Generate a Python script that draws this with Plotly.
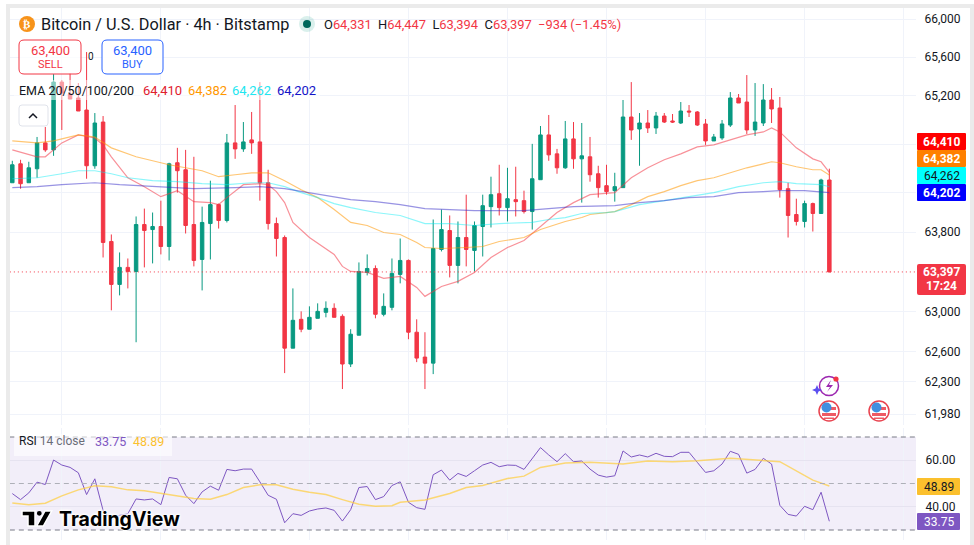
#!/usr/bin/env python3
"""Bitcoin / U.S. Dollar 4h candles with EMA ribbon and RSI pane."""

import numpy as np
import plotly.graph_objects as go

W, H = 974, 545

# candles
opens = [64303, 64497, 64303, 64446, 64712, 64640, 65341, 65217, 65176, 65051,
         64477, 64927, 63705, 63271, 63443, 63402, 63877, 63826, 63857, 63654,
         64508, 64436, 63877, 63523, 63887, 64080, 63918, 64712, 64650, 64743,
         64722, 64303, 63887, 63745, 62633, 62921, 62822, 62931, 62991, 63031,
         62951, 62475, 62762, 63392, 63432, 62971, 63041, 63372, 63513, 62792,
         62544, 62484, 63624, 63816, 63463, 63745, 63614, 63857, 64059, 64191,
         64049, 64130, 64120, 64009, 64334, 64794, 64599, 64456, 64753, 64548,
         64569, 64395, 64273, 64222, 64253, 64979, 64855, 64917, 64866, 64989,
         64938, 64917, 65041, 65031, 64907, 64732, 64763, 64896, 65176, 65134,
         64845, 64917, 65155, 65072, 64242, 63979, 63908, 64090, 63989, 64331]
highs = [64528, 64538, 64518, 64773, 64876, 65424, 65362, 65435, 65331, 65654,
         65020, 64989, 63776, 63594, 63533, 63959, 64039, 63999, 64120, 64508,
         64661, 64640, 64569, 64059, 64324, 64090, 64804, 65103, 64927, 65031,
         65341, 64436, 63948, 63766, 63231, 63001, 63051, 63081, 63101, 63081,
         62971, 62822, 63493, 63574, 63463, 63181, 63533, 63735, 63523, 62921,
         62792, 63928, 64029, 63969, 63908, 64181, 63908, 64181, 64365, 64487,
         64456, 64467, 64222, 64702, 64886, 65000, 64650, 64938, 64927, 64917,
         64773, 64477, 64487, 64405, 65155, 65341, 65020, 65051, 65031, 65020,
         65010, 65134, 65103, 65041, 64958, 64804, 64948, 65237, 65217, 65414,
         65331, 65320, 65279, 65186, 64303, 64140, 64120, 64100, 64344, 64447]
lows = [64303, 64242, 64303, 64354, 64620, 64579, 64845, 65165, 65041, 64344,
        64446, 63543, 63011, 63161, 63231, 62692, 63443, 63483, 63574, 63513,
        64202, 63786, 63453, 63211, 63523, 63836, 63898, 64548, 64620, 64599,
        64120, 63826, 63553, 62385, 62633, 62792, 62822, 62931, 62941, 62941,
        62227, 62445, 62762, 63362, 62931, 62951, 63011, 63282, 62722, 62494,
        62227, 62375, 63604, 63342, 63282, 63453, 63402, 63553, 63847, 63969,
        63908, 63959, 63989, 63826, 64334, 64528, 64395, 64446, 64446, 64100,
        64314, 64151, 64181, 64110, 64253, 64743, 64477, 64814, 64804, 64917,
        64917, 64907, 64979, 64886, 64691, 64732, 64743, 64876, 65124, 64804,
        64784, 64886, 64917, 64151, 63745, 63867, 63847, 63806, 63989, 63394]
closes = [64487, 64293, 64456, 64712, 64640, 65341, 65227, 65165, 65041, 64477,
          64917, 63695, 63271, 63443, 63402, 63877, 63816, 63857, 63654, 64497,
          64426, 63867, 63513, 63898, 64080, 63918, 64712, 64650, 64722, 64712,
          64303, 63887, 63735, 62633, 62911, 62822, 62941, 63001, 63031, 62941,
          62475, 62772, 63402, 63432, 62971, 63051, 63382, 63513, 62792, 62534,
          62484, 63634, 63826, 63463, 63745, 63624, 63867, 64069, 64181, 64049,
          64140, 64110, 64009, 64344, 64794, 64589, 64456, 64753, 64548, 64579,
          64385, 64253, 64212, 64263, 64979, 64845, 64917, 64866, 64989, 64927,
          64927, 65041, 65031, 64896, 64732, 64773, 64907, 65176, 65124, 64845,
          64927, 65155, 65062, 64232, 63969, 63908, 64090, 63989, 64331, 63397]

# EMA lines, read at their bends
ema20_i = [0, 3, 4, 6, 8, 10, 11, 12, 14, 16, 18, 20, 22, 24, 25, 26, 28, 30, 31, 32,
           33, 34, 36, 39, 40, 41, 43, 45, 47, 49, 50, 52, 54, 56, 58, 60, 62, 64, 66,
           68, 70, 73, 75, 77, 79, 81, 83, 85, 87, 89, 91, 92, 93, 95, 97, 98, 99]
ema20 = [64640, 64569, 64569, 64712, 64794, 64763, 64691, 64569, 64354, 64263, 64161,
         64222, 64110, 64100, 64080, 64151, 64283, 64293, 64283, 64212, 64100, 63898,
         63745, 63574, 63453, 63402, 63392, 63332, 63352, 63241, 63151, 63251, 63302,
         63392, 63543, 63644, 63715, 63857, 63999, 64100, 64181, 64202, 64354, 64456,
         64538, 64599, 64671, 64691, 64743, 64794, 64825, 64866, 64825, 64661, 64548,
         64518, 64410]
ema50_i = [0, 3, 5, 8, 10, 12, 15, 19, 23, 25, 27, 29, 31, 33, 35, 37, 39, 41, 43, 45, 47,
           49, 50, 52, 55, 57, 59, 62, 64, 67, 69, 70, 73, 75, 77, 79, 81, 83, 85, 87,
           89, 91, 92, 93, 95, 97, 98, 99]
ema50 = [64732, 64712, 64732, 64794, 64773, 64661, 64569, 64487, 64426, 64365, 64385,
         64405, 64405, 64324, 64232, 64151, 64029, 63898, 63867, 63796, 63776, 63695,
         63644, 63634, 63644, 63654, 63705, 63745, 63826, 63908, 63948, 63979, 64009,
         64080, 64161, 64212, 64273, 64324, 64354, 64405, 64456, 64497, 64518, 64508,
         64467, 64436, 64436, 64382]
ema100_i = [0, 3, 6, 8, 10, 12, 14, 17, 20, 23, 26, 29, 31, 33, 35, 37, 39, 41, 44, 47, 50,
            53, 56, 59, 63, 65, 67, 69, 72, 73, 76, 79, 82, 85, 88, 91, 93, 95, 98, 99]
ema100 = [64344, 64354, 64395, 64426, 64426, 64395, 64354, 64324, 64314, 64293, 64283,
          64303, 64303, 64263, 64202, 64151, 64090, 64049, 63999, 63969, 63887, 63887,
          63867, 63887, 63898, 63928, 63948, 63989, 63999, 64009, 64080, 64120, 64161,
          64202, 64263, 64303, 64314, 64293, 64283, 64262]
ema200_i = [0, 3, 6, 9, 10, 13, 17, 22, 27, 30, 33, 36, 39, 41, 44, 47, 50, 53, 56, 59, 62,
            65, 68, 73, 76, 79, 82, 85, 88, 91, 93, 96, 99]
ema200 = [64253, 64263, 64283, 64303, 64303, 64283, 64263, 64242, 64253, 64263, 64242,
          64202, 64161, 64130, 64110, 64080, 64039, 64029, 64019, 64019, 64019, 64039,
          64059, 64069, 64100, 64120, 64151, 64161, 64202, 64212, 64222, 64222, 64202]

rsi = [45.67, 43.07, 45.96, 50.58, 49.57, 60.10, 57.94, 56.93, 54.62, 45.24,
       52.02, 38.46, 34.10, 36.30, 37.00, 43.36, 42.93, 43.36, 40.91, 52.60,
       52.02, 44.95, 41.34, 46.39, 48.85, 47.11, 56.06, 55.48, 56.20, 56.20,
       50.72, 44.95, 43.22, 33.12, 37.01, 36.29, 38.17, 39.03, 39.47, 38.46,
       33.84, 38.74, 48.27, 48.70, 43.07, 44.37, 49.13, 50.72, 41.92, 39.61,
       38.89, 53.75, 55.77, 51.44, 54.33, 53.03, 55.48, 57.94, 59.09, 57.22,
       57.94, 57.79, 56.06, 60.82, 65.44, 62.27, 59.38, 62.84, 59.38, 59.67,
       56.20, 53.61, 52.74, 53.32, 64.00, 61.40, 62.27, 61.40, 62.99, 61.69,
       61.54, 63.42, 63.42, 59.09, 54.76, 55.48, 58.37, 63.85, 62.55, 54.47,
       56.06, 60.82, 58.37, 40.62, 36.72, 36.00, 40.19, 38.74, 46.25, 33.75]
rsi_ma_i = [0, 2, 4, 6, 8, 10, 12, 14, 16, 18, 20, 22, 24, 26, 28, 30, 32, 34, 36, 38, 40, 42,
            44, 46, 47, 50, 53, 55, 57, 60, 62, 64, 67, 70, 74, 77, 80, 83, 87, 91, 93, 97, 99]
rsi_ma = [41.63, 40.91, 41.49, 44.66, 47.26, 48.99, 48.56, 47.26, 46.83, 45.82, 44.81,
          43.51, 43.22, 45.24, 48.27, 49.42, 49.42, 47.55, 46.25, 45.24, 43.07, 41.05,
          40.19, 40.48, 41.92, 42.93, 45.67, 48.27, 49.13, 52.16, 53.17, 56.93, 58.80,
          59.09, 58.37, 59.67, 59.38, 59.81, 60.82, 59.96, 59.38, 51.44, 48.89]

price_ticks = [66000, 65600, 65200, 64700, 64200, 63800, 63000, 62600, 62300, 61980]
price_labels = ["66,000", "65,600", "65,200", "", "", "63,800", "63,000", "62,600", "62,300", "61,980"]
rsi_ticks = [60, 40]
rsi_labels = ["60.00", "40.00"]
time_grid = [6, 18, 36, 48, 60, 72, 84, 96, 108]
last_price = 63397

GREEN = "#089981"
RED = "#F23645"
GRID = "#F0F3FA"
TEXT = "#131722"
FONT = "Roboto"


def fx(px):
    return px / W


def fy(px):
    return 1 - px / H


shapes = []
notes = []


def rect(x0, y0, x1, y1, fill, line=None, radius=0, width=1):
    if radius:
        r = radius
        path = (f"M {fx(x0 + r)} {fy(y0)} L {fx(x1 - r)} {fy(y0)} Q {fx(x1)} {fy(y0)} {fx(x1)} {fy(y0 + r)} "
                f"L {fx(x1)} {fy(y1 - r)} Q {fx(x1)} {fy(y1)} {fx(x1 - r)} {fy(y1)} "
                f"L {fx(x0 + r)} {fy(y1)} Q {fx(x0)} {fy(y1)} {fx(x0)} {fy(y1 - r)} "
                f"L {fx(x0)} {fy(y0 + r)} Q {fx(x0)} {fy(y0)} {fx(x0 + r)} {fy(y0)} Z")
        shapes.append(dict(type="path", xref="paper", yref="paper", path=path, fillcolor=fill,
                           line=dict(color=line or "rgba(0,0,0,0)", width=width)))
    else:
        shapes.append(dict(type="rect", xref="paper", yref="paper", x0=fx(x0), x1=fx(x1), y0=fy(y0), y1=fy(y1),
                           fillcolor=fill, line=dict(color=line or "rgba(0,0,0,0)", width=width if line else 0)))


def circle(cx, cy, r, fill, line=None, width=1):
    shapes.append(dict(type="circle", xref="paper", yref="paper", x0=fx(cx - r), x1=fx(cx + r),
                       y0=fy(cy - r), y1=fy(cy + r), fillcolor=fill,
                       line=dict(color=line or "rgba(0,0,0,0)", width=width if line else 0)))


def poly(points, fill="rgba(0,0,0,0)", line=None, width=1):
    path = "M " + " L ".join(f"{fx(a)} {fy(b)}" for a, b in points)
    if fill != "rgba(0,0,0,0)":
        path += " Z"
    shapes.append(dict(type="path", xref="paper", yref="paper", path=path, fillcolor=fill,
                       line=dict(color=line or "rgba(0,0,0,0)", width=width if line else 0)))


def label(x, y, text, size=12, color=TEXT, anchor="left", weight=None, family=FONT, shadow=None):
    font = dict(size=size, color=color, family=family)
    if weight:
        font["weight"] = weight
    if shadow:
        font["shadow"] = shadow
    notes.append(dict(x=fx(x), y=fy(y), xref="paper", yref="paper", text=text, showarrow=False,
                      xanchor=anchor, yanchor="middle", font=font, borderpad=0, borderwidth=0))


def ema_line(idx, vals, color):
    return go.Scatter(x=idx, y=vals, mode="lines", line=dict(color=color, width=1.2),
                      hoverinfo="skip", xaxis="x", yaxis="y")


fig = go.Figure()

fig.add_trace(go.Candlestick(
    x=list(range(len(closes))), open=opens, high=highs, low=lows, close=closes,
    increasing=dict(line=dict(color=GREEN, width=1), fillcolor=GREEN),
    decreasing=dict(line=dict(color=RED, width=1), fillcolor=RED),
    whiskerwidth=0, hoverinfo="skip", xaxis="x", yaxis="y"))
fig.add_trace(ema_line(ema20_i, ema20, "rgba(242,54,69,0.55)"))
fig.add_trace(ema_line(ema50_i, ema50, "rgba(255,152,0,0.55)"))
fig.add_trace(ema_line(ema100_i, ema100, "rgba(0,235,245,0.45)"))
fig.add_trace(ema_line(ema200_i, ema200, "rgba(50,40,200,0.5)"))

# last price dotted line
fig.add_trace(go.Scatter(x=[-0.3, 109.5], y=[last_price, last_price], mode="lines",
                         line=dict(color=RED, width=1, dash="1px,3px"), hoverinfo="skip",
                         xaxis="x", yaxis="y"))

fig.add_trace(go.Scatter(x=list(range(len(rsi))), y=rsi, mode="lines",
                         line=dict(color="#7E57C2", width=1), hoverinfo="skip",
                         xaxis="x2", yaxis="y2"))
fig.add_trace(go.Scatter(x=rsi_ma_i, y=rsi_ma, mode="lines",
                         line=dict(color="rgba(255,205,60,0.7)", width=1.5), hoverinfo="skip",
                         xaxis="x2", yaxis="y2"))

# page frame
rect(6, 4, W, 8, "#EBEBEB")
rect(6, 4, 10, H, "#EBEBEB")
rect(970, 4, W, H, "#EBEBEB")

# rsi band and levels
shapes.append(dict(type="rect", xref="x2", yref="y2", x0=-0.3, x1=109.5, y0=30, y1=70,
                   fillcolor="rgba(126,87,194,0.1)", line=dict(width=0), layer="below"))
for lvl, col in [(70, "#787B86"), (50, "#AEB0B8"), (30, "#787B86")]:
    shapes.append(dict(type="line", xref="x2", yref="y2", x0=-0.3, x1=109.5, y0=lvl, y1=lvl,
                       line=dict(color=col, width=1, dash="5px,4px")))

# header
circle(27, 24, 8, "#F7931A")
label(27, 24, "₿", 11, "white", "center", "bold", "DejaVu Sans")
label(41, 25, "Bitcoin / U.S. Dollar · 4h · Bitstamp", 16.3, TEXT)
circle(307, 24, 8, "rgba(8,153,129,0.15)")
circle(307, 24, 4, "#00695C")
red = f'style="color:{RED}"'
label(324, 25, f"O<span {red}>64,331</span>  H<span {red}>64,447</span>  L<span {red}>63,394</span>  "
               f"C<span {red}>63,397</span> <span {red}> −934 (−1.45%)</span>", 12.9, TEXT)

# sell / buy
rect(19, 40, 81, 74, "rgba(255,255,255,0.75)", RED, 5)
label(50, 50, "63,400", 13, RED, "center")
label(50, 64, "SELL", 11, RED, "center")
label(88, 57, "0", 10, TEXT)
rect(102, 40, 163, 74, "rgba(255,255,255,0.9)", "#2962FF", 5)
label(132.5, 50, "63,400", 13, "#2962FF", "center")
label(132.5, 64, "BUY", 11, "#2962FF", "center")

# ema legend
rect(14, 80, 320, 100, "rgba(255,255,255,0.5)")
label(19, 90, "EMA 20/50/100/200", 12.5, TEXT)
label(143, 90, "64,410", 13, "#E0202F")
label(188, 90, "64,382", 13, "#FF9800")
label(232, 90, "64,262", 13, "#22E6F0")
label(277, 90, "64,202", 13, "#1414C8")
rect(19, 105, 48, 126, "white", "#E0E3EB", 3)
poly([(29, 118), (33, 114), (37, 118)], line=TEXT, width=1.5)

# price labels on the axis
rect(917, 133, 966, 150, "#FF0000", radius=1)
label(941.5, 142, "64,410", 12, "white", "center", "bold")
rect(917, 150, 966, 167, "#FF8000", radius=1)
label(941.5, 159, "64,382", 12, "white", "center", "bold")
rect(917, 167, 966, 184, "#00FFFF", radius=1)
label(941.5, 176, "64,262", 12, TEXT, "center")
rect(917, 184, 966, 201, "#0000FF", radius=1)
label(941.5, 193, "64,202", 12, "white", "center", "bold")
rect(917, 264, 966, 295, RED, radius=2)
label(941.5, 272, "63,397", 12, "white", "center", "bold")
label(941.5, 286, "17:24", 12, "white", "center", "bold")

# rsi legend and labels
rect(14, 434, 172, 456, "rgba(255,255,255,0.6)")
label(19, 441, 'RSI <span style="color:#6A6D78">14 close</span>', 12, TEXT)
label(95, 441, "33.75", 12.5, "#7E57C2")
label(133, 441, "48.89", 12.5, "#FBC02D")
rect(917, 478, 960, 495, "#FBC02D", radius=1)
label(938.5, 487, "48.89", 12, TEXT, "center")
rect(917, 513, 960, 530, "#7E57C2", radius=1)
label(938.5, 521.5, "33.75", 12, "white", "center")

# tradingview logo
poly([(22, 511), (35, 511), (35, 526), (28, 526), (28, 516), (22, 516)], fill="#000000", line="white", width=1.5)
circle(39.3, 513.3, 2.4, "#000000")
poly([(45, 511), (51.7, 511), (43.3, 526), (36.7, 526)], fill="#000000", line="white", width=1.5)
label(59, 519, "TradingView", 19.5, "#000000", "left", "bold", "Inter",
      shadow="0 0 3px white, 0 0 3px white, 0 0 3px white, 0 0 4px white")

# event icons
circle(829, 386, 9.5, "rgba(255,255,255,0)", "#9C27B0", 1.5)
circle(836, 379, 2.6, RED)
poly([(831, 380), (826, 387), (830, 387), (827, 392), (833, 385), (829, 385)], fill="#9C27B0")
poly([(817, 385), (818.5, 388.5), (822, 390), (818.5, 391.5), (817, 395), (815.5, 391.5), (812, 390), (815.5, 388.5)],
     fill="#5B4FF0")
for cx in (829, 879):
    circle(cx, 411, 10, "white", "#E8434F", 1.5)
    rect(cx - 7, 413, cx + 7, 416, "#EE5A64")
    rect(cx - 5, 417.5, cx + 5, 419, "#EE5A64")
    rect(cx, 407, cx + 7, 410, "#EE5A64")
    circle(cx - 2.5, 407.5, 5, "#3F8FE0")

fig.update_layout(
    width=W, height=H, margin=dict(l=0, r=0, t=0, b=0),
    paper_bgcolor="white", plot_bgcolor="white", boxgap=0.4,
    showlegend=False, shapes=shapes, annotations=notes,
    font=dict(family=FONT, size=12, color=TEXT),
    xaxis=dict(domain=[fx(10), fx(916)], range=[-0.279, 109.5], tickvals=time_grid,
               showticklabels=False, ticks="", gridcolor=GRID, gridwidth=1, zeroline=False,
               rangeslider=dict(visible=False), anchor="y"),
    yaxis=dict(domain=[fy(425), fy(8)], type="log", range=[np.log10(61872), np.log10(66115.6)],
               side="right", tickvals=price_ticks, ticktext=price_labels, ticks="outside",
               ticklen=5, tickcolor="rgba(255,255,255,0)", gridcolor=GRID, gridwidth=1,
               zeroline=False, showline=False, tickfont=dict(size=12, color=TEXT, family=FONT),
               anchor="x"),
    xaxis2=dict(domain=[fx(10), fx(916)], range=[-0.279, 109.5], tickvals=time_grid,
                showticklabels=False, ticks="", gridcolor=GRID, gridwidth=1, zeroline=False,
                anchor="y2"),
    yaxis2=dict(domain=[fy(540), fy(428)], range=[25.7, 73.87], side="right",
                tickvals=rsi_ticks, ticktext=rsi_labels, ticks="outside", ticklen=6,
                tickcolor="rgba(255,255,255,0)", gridcolor="#E6E3F0", gridwidth=1, zeroline=False,
                tickfont=dict(size=12, color=TEXT, family=FONT), anchor="x2"),
)

fig.write_html("out.html", config=dict(displayModeBar=False), post_script="document.body.style.margin='0'")
